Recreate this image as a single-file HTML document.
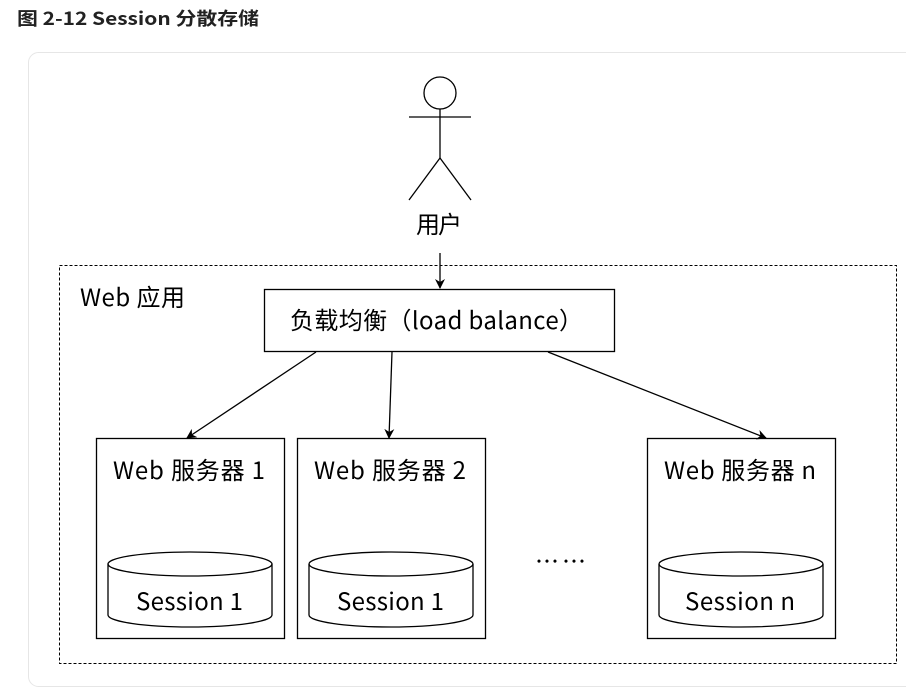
<!DOCTYPE html>
<html><head><meta charset="utf-8"><style>
body{margin:0;width:906px;height:692px;background:#fff;overflow:hidden;font-family:"Noto Sans CJK SC",sans-serif;}
</style></head><body>
<svg width="906" height="692" viewBox="0 0 906 692" xmlns="http://www.w3.org/2000/svg" font-family="Noto Sans CJK SC, sans-serif">
<defs><marker id="a" markerWidth="10" markerHeight="10" refX="9" refY="5" orient="auto" markerUnits="userSpaceOnUse"><path d="M0,0 L10,5 L0,10 L3,5 z" fill="#000"/></marker></defs>
<text x="17" y="25" font-size="18" font-weight="bold" fill="#222" textLength="242" lengthAdjust="spacingAndGlyphs">图 2-12 Session 分散存储</text>
<rect x="28.5" y="52.5" width="900" height="634" rx="10" fill="#fff" stroke="#e6e6e6"/>
<g stroke="#000" stroke-width="1.3" fill="none">
<circle cx="440" cy="93" r="16"/>
<line x1="409" y1="117" x2="471" y2="117"/>
<line x1="440" y1="109" x2="440" y2="158"/>
<line x1="440" y1="158" x2="409" y2="200"/>
<line x1="440" y1="158" x2="471" y2="200"/>
<line x1="440" y1="253" x2="440" y2="288" marker-end="url(#a)"/>
<rect x="59.5" y="265.5" width="837" height="398" stroke-dasharray="3,2" stroke-width="1"/>
<rect x="264.5" y="289.5" width="350" height="62"/>
<line x1="316" y1="352" x2="187" y2="438" marker-end="url(#a)"/>
<line x1="392" y1="352" x2="389" y2="438" marker-end="url(#a)"/>
<line x1="548" y1="352" x2="766" y2="438" marker-end="url(#a)"/>
<rect x="96.5" y="438.5" width="188" height="200"/>
<rect x="297.5" y="438.5" width="188" height="200"/>
<rect x="647.5" y="438.5" width="188" height="200"/>
<g id="c">
<path d="M108,564 L108,615 A82,12 0 0 0 272,615 L272,564"/>
<ellipse cx="190" cy="564" rx="82" ry="12"/>
</g>
<use href="#c" x="201"/>
<use href="#c" x="551"/>
</g>
<g font-size="24" fill="#000" lengthAdjust="spacingAndGlyphs">
<text x="416" y="233" textLength="46">用户</text>
<text x="113" y="479" textLength="152">Web 服务器 1</text>
<text x="314" y="479" textLength="152">Web 服务器 2</text>
<text x="664" y="479" textLength="152">Web 服务器 n</text>
<text x="136" y="610" textLength="107">Session 1</text>
<text x="337" y="610" textLength="107">Session 1</text>
<text x="685" y="610" textLength="110">Session n</text>
<text x="535" y="570" textLength="20">…</text>
<text x="562" y="570" textLength="20">…</text>
<text x="80" y="306" textLength="105">Web 应用</text>
<text x="290" y="329" textLength="293">负载均衡（load balance）</text>
</g>
</svg>
</body></html>
